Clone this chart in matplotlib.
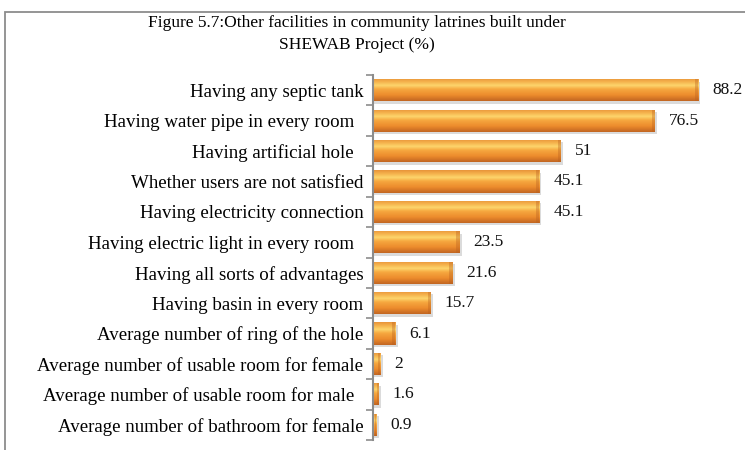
import matplotlib
matplotlib.use("Agg")
import matplotlib.pyplot as plt
import numpy as np
from matplotlib.colors import LinearSegmentedColormap
from matplotlib.patches import Rectangle

categories = [
    "Having any septic tank",
    "Having water pipe in every room  ",
    "Having artificial hole  ",
    "Whether users are not satisfied",
    "Having electricity connection",
    "Having electric light in every room  ",
    "Having all sorts of advantages",
    "Having basin in every room",
    "Average number of ring of the hole",
    "Average number of usable room for female",
    "Average number of usable room for male  ",
    "Average number of bathroom for female",
]
values = [88.2, 76.5, 51, 45.1, 45.1, 23.5, 21.6, 15.7, 6.1, 2, 1.6, 0.9]
value_labels = ["88.2", "76.5", "51", "45.1", "45.1", "23.5", "21.6", "15.7", "6.1", "2", "1.6", "0.9"]

title = "Figure 5.7:Other facilities in community latrines built under\nSHEWAB Project (%)"

plt.rcParams["font.family"] = ["Liberation Serif", "DejaVu Serif"]

W, H = 745, 450
fig = plt.figure(figsize=(W / 100, H / 100), dpi=100)

# outer chart frame
fig.patches.append(Rectangle((5 / W, -0.1), 1.2, 1 - 12 / H + 0.1, transform=fig.transFigure,
                             fill=False, edgecolor="#8c8c8c", linewidth=1.3, zorder=0))

ax_left, ax_right = 373 / W, 1.0
ax_top, ax_bottom = 1 - 75 / H, 1 - 440 / H
ax = fig.add_axes([ax_left, ax_bottom, ax_right - ax_left, ax_top - ax_bottom])
xmax = (W - 373) / 3.685
ax.set_xlim(0, xmax)
ax.set_ylim(len(categories) - 0.5, -0.5)

# glossy orange gradient (top to bottom)
grad_cmap = LinearSegmentedColormap.from_list("gloss", [
    (0.0, "#e8943a"),
    (0.15, "#f5b24c"),
    (0.32, "#fdd56c"),
    (0.48, "#f6a840"),
    (0.75, "#ec8b2c"),
    (1.0, "#c26622"),
])
grad = np.linspace(0, 1, 64).reshape(-1, 1)

bar_h = 0.73
y_pos = np.arange(len(categories))
bars = ax.barh(y_pos, values, height=bar_h, color="none", edgecolor="none", zorder=3)

for rect, v in zip(bars, values):
    x0, y0 = rect.get_x(), rect.get_y()
    w, h = rect.get_width(), rect.get_height()
    # soft drop shadow
    ax.add_patch(Rectangle((x0, y0 + 0.08), w + 0.6, h, facecolor="#9a9a9a", alpha=0.35,
                           edgecolor="none", zorder=2))
    im = ax.imshow(grad, cmap=grad_cmap, aspect="auto", interpolation="bilinear",
                   extent=[x0, x0 + w, y0 + h, y0], zorder=3)
    im.set_clip_path(rect)
    # darker bevelled end cap
    cap = min(0.9, w * 0.3)
    ax.add_patch(Rectangle((x0 + w - cap, y0), cap, h, facecolor="#b85f1e", alpha=0.35,
                           edgecolor="none", zorder=4))

for yy, v, lab in zip(y_pos, values, value_labels):
    ax.text(v + 3.8, yy, lab, va="center", ha="left", fontsize=12.5, color="#111111")

ax.set_yticks(y_pos)
ax.set_yticklabels(categories, fontsize=13.6)
ax.tick_params(axis="y", which="major", length=0, pad=7)
ax.set_yticks(np.arange(-0.5, len(categories)), minor=True)
ax.tick_params(axis="y", which="minor", length=5, width=1.2, color="#8c8c8c", direction="out")
ax.set_xticks([])

for s in ["top", "right", "bottom"]:
    ax.spines[s].set_visible(False)
ax.spines["left"].set_color("#8c8c8c")
ax.spines["left"].set_linewidth(1.5)
ax.spines["left"].set_zorder(5)
ax.patch.set_alpha(0)

fig.text(357 / W, 1 - 34 / H, title, ha="center", va="center", fontsize=12.5, linespacing=1.45)

fig.savefig("out.png", dpi=100)
